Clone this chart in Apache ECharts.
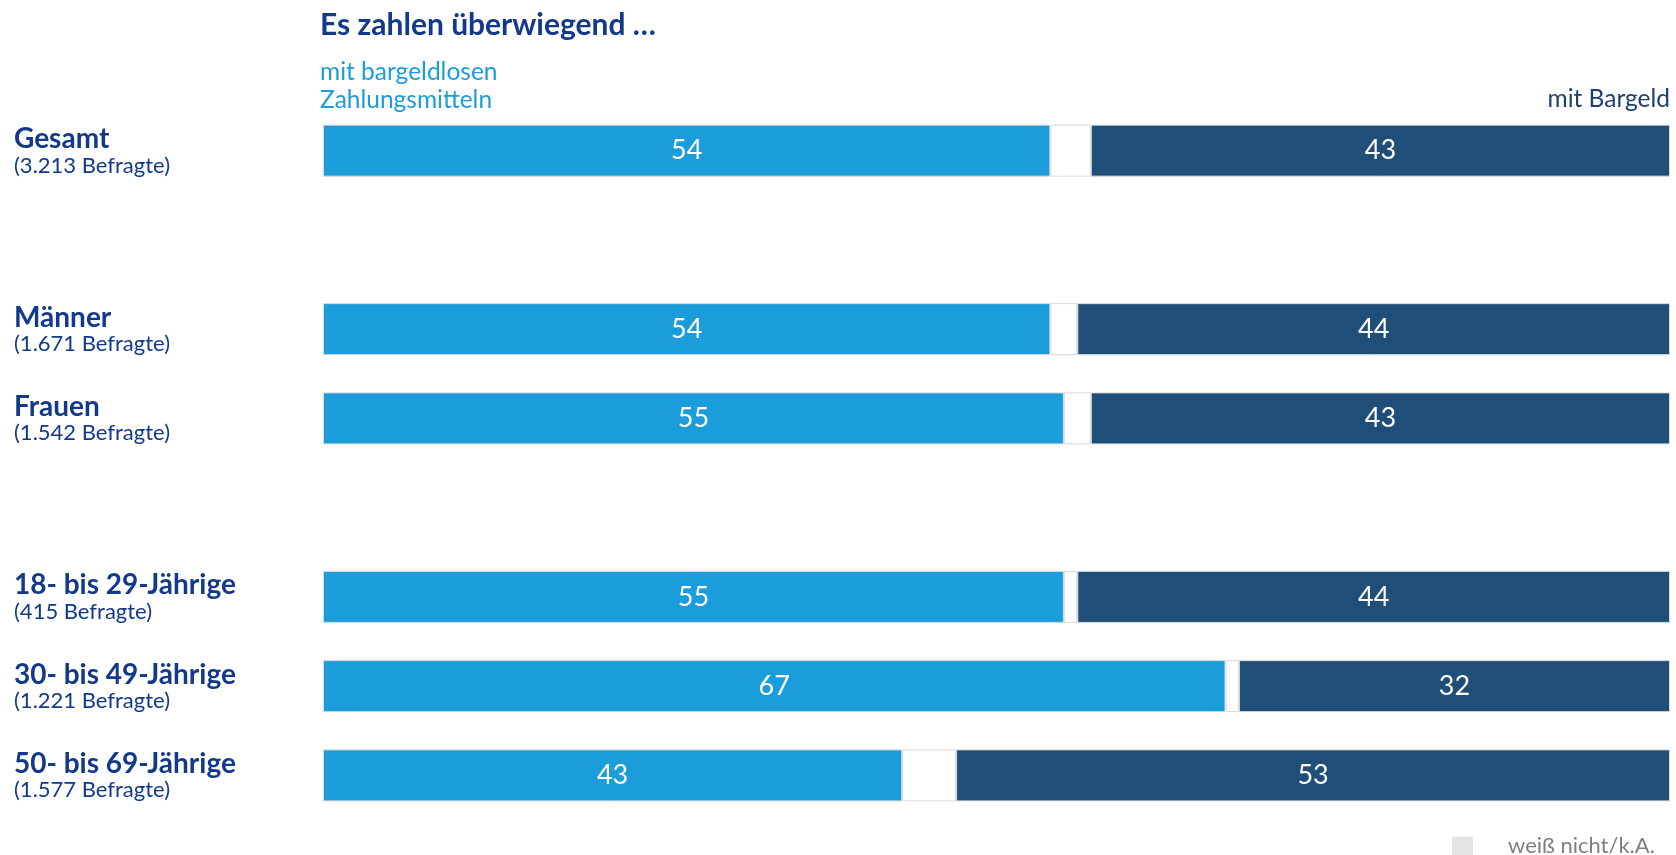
<!DOCTYPE html>
<html>
<head>
<meta charset="utf-8">
<script src="https://cdn.jsdelivr.net/npm/echarts@6/dist/echarts.min.js"></script>
<style>
html, body { margin: 0; padding: 0; background: #fff; }
#chart { width: 1676px; height: 855px; }
</style>
</head>
<body>
<div id="chart"></div>
<script>
// leere Einträge = Abstand zwischen den Gruppen
const groups = ['Gesamt', '', 'Männer', 'Frauen', '', '18- bis 29-Jährige', '30- bis 49-Jährige', '50- bis 69-Jährige'];
const respondents = ['3.213', '', '1.671', '1.542', '', '415', '1.221', '1.577'];
const cashless = [54, null, 54, 55, null, 55, 67, 43];
const dontKnow = [3, null, 2, 2, null, 1, 1, 4];
const cash = [43, null, 44, 43, null, 44, 32, 53];

const fontFamily = 'Lato, "Noto Sans", sans-serif';
const navy = '#12398a';

const myChart = echarts.init(document.getElementById('chart'));

const option = {
    textStyle: { fontFamily: fontFamily },
    title: [
        {
            text: 'Es zahlen überwiegend …',
            left: 315,
            top: 5,
            textStyle: { color: navy, fontSize: 30, fontWeight: 'bold', fontFamily: fontFamily }
        },
        {
            text: 'mit bargeldlosen\nZahlungsmitteln',
            left: 315,
            top: 53,
            textStyle: { color: '#1b9ddb', fontSize: 24.5, fontWeight: 'normal', lineHeight: 28, fontFamily: fontFamily }
        },
        {
            text: 'mit Bargeld',
            right: 1,
            top: 82,
            textStyle: { color: '#1f3f6e', fontSize: 24.5, fontWeight: 'normal', fontFamily: fontFamily }
        }
    ],
    legend: {
        data: [{ name: 'weiß nicht/k.A.', itemStyle: { color: '#e4e4e4', borderWidth: 0 } }],
        left: 1447,
        top: 830,
        itemWidth: 21,
        itemHeight: 19,
        icon: 'rect',
        selectedMode: false,
        textStyle: { color: '#7f7f7f', fontSize: 22, padding: [0, 0, 0, 30], fontFamily: fontFamily }
    },
    grid: {
        left: 323,
        right: 6,
        top: 106,
        height: 714
    },
    xAxis: {
        type: 'value',
        min: 0,
        max: 100,
        show: false
    },
    yAxis: {
        type: 'category',
        inverse: true,
        data: groups,
        axisLine: { show: false },
        axisTick: { show: false },
        axisLabel: {
            align: 'left',
            margin: 309,
            formatter: function (value, idx) {
                if (!value) return '';
                return '{a|' + value + '}\n{b|(' + respondents[idx] + ' Befragte)}';
            },
            rich: {
                a: { color: navy, fontSize: 28, fontWeight: 'bold', lineHeight: 30, padding: [5, 0, 0, 0], fontFamily: fontFamily },
                b: { color: navy, fontSize: 22, lineHeight: 28, fontFamily: fontFamily }
            }
        }
    },
    series: [
        {
            name: 'mit bargeldlosen Zahlungsmitteln',
            type: 'bar',
            stack: 'total',
            barWidth: 52,
            data: cashless,
            itemStyle: { color: '#1b9ddb', borderColor: '#d9d9d9', borderWidth: 1 },
            label: { show: true, position: 'inside', color: '#fff', fontSize: 27, fontFamily: fontFamily }
        },
        {
            name: 'weiß nicht/k.A.',
            type: 'bar',
            stack: 'total',
            data: dontKnow,
            itemStyle: { color: '#ffffff', borderColor: '#d9d9d9', borderWidth: 1 }
        },
        {
            name: 'mit Bargeld',
            type: 'bar',
            stack: 'total',
            data: cash,
            itemStyle: { color: '#1f4e79', borderColor: '#d9d9d9', borderWidth: 1 },
            label: { show: true, position: 'inside', color: '#fff', fontSize: 27, fontFamily: fontFamily }
        }
    ]
};

myChart.setOption(option);
window.addEventListener('resize', () => {
    myChart.resize();
});
</script>
</body>
</html>
